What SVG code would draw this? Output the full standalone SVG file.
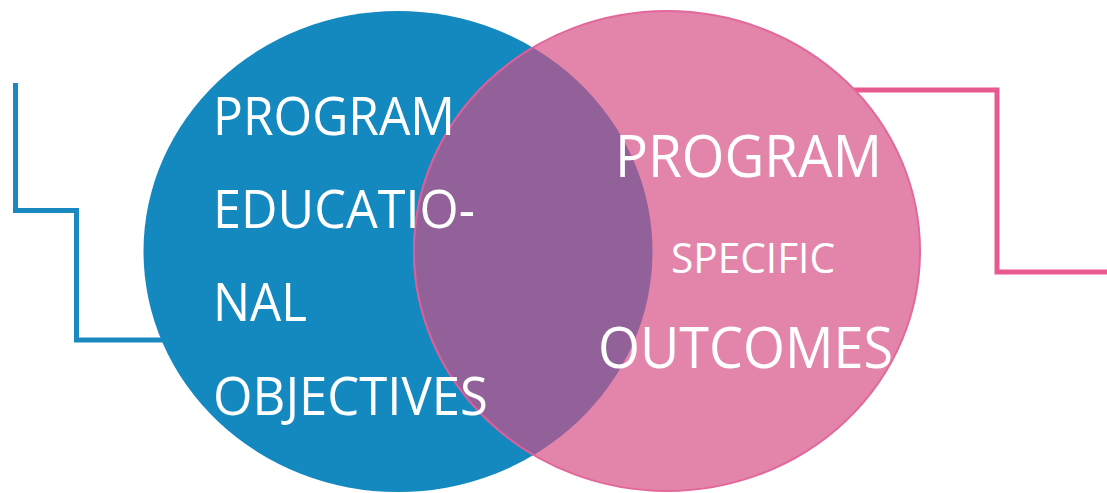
<svg xmlns="http://www.w3.org/2000/svg" width="1107" height="493" viewBox="0 0 1107 493">
<style>
.conn{fill:none;stroke-width:5;stroke-linejoin:miter}
.txt{fill:#ffffff;font-family:"Open Sans","Liberation Sans",sans-serif}
</style>
<defs>
<clipPath id="blueClip"><ellipse cx="398" cy="251.5" rx="254.5" ry="240.5"/></clipPath>
</defs>
<rect width="1107" height="493" fill="#ffffff"/>
<g id="connectors">
<polyline class="conn" stroke="#1a89c2" points="15.5,83 15.5,210.5 76.5,210.5 76.5,340 165,340"/>
<polyline class="conn" stroke="#e8598f" points="840,90 997,90 997,272 1107,272"/>
</g>
<g id="peo">
<ellipse cx="398" cy="251.5" rx="254.5" ry="240.5" fill="#1389c0"/>
</g>
<g id="pso">
<ellipse cx="667" cy="251" rx="253" ry="240" fill="#e385aa" stroke="#e2689c" stroke-width="2"/>
<ellipse cx="667" cy="251" rx="253" ry="240" fill="#93619a" stroke="#d8609a" stroke-width="2" clip-path="url(#blueClip)"/>
</g>
<g id="peo-text">
<text class="txt" x="213" y="135" font-size="53" textLength="242" lengthAdjust="spacingAndGlyphs">PROGRAM</text>
<text class="txt" x="213" y="228" font-size="53" textLength="262" lengthAdjust="spacingAndGlyphs">EDUCATIO-</text>
<text class="txt" x="213" y="321" font-size="53" textLength="94" lengthAdjust="spacingAndGlyphs">NAL</text>
<text class="txt" x="213" y="415" font-size="53" textLength="275" lengthAdjust="spacingAndGlyphs">OBJECTIVES</text>
</g>
<g id="pso-text">
<text class="txt" x="615" y="177" font-size="59" textLength="267" lengthAdjust="spacingAndGlyphs">PROGRAM</text>
<text class="txt" x="671" y="273" font-size="42" textLength="164" lengthAdjust="spacingAndGlyphs">SPECIFIC</text>
<text class="txt" x="598" y="368" font-size="57" textLength="295" lengthAdjust="spacingAndGlyphs">OUTCOMES</text>
</g>
</svg>
